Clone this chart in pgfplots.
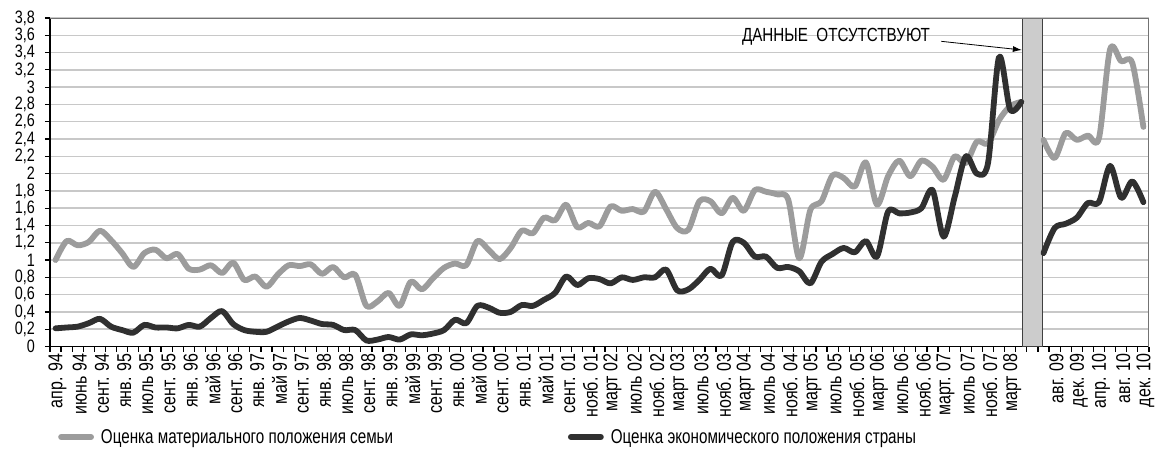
\documentclass[border=0pt]{standalone}
\usepackage{fontspec}
\setmainfont{Liberation Sans}[FakeStretch=0.85]
\newfontfamily\narrowX{Liberation Sans}[FakeStretch=0.8]
\newfontfamily\narrowL{Liberation Sans}[FakeStretch=0.76]
\usepackage{pgfplots}
\usepackage{pgfplotstable}
\pgfplotsset{compat=1.18}
\usetikzlibrary{arrows.meta}
\definecolor{lgray}{HTML}{9C9C9C}
\definecolor{dgray}{HTML}{303030}
\definecolor{gridc}{HTML}{C8C8C8}
\definecolor{barc}{HTML}{CCCCCC}

\pgfplotstableread{
k v
0 1.00
1 1.22
2 1.17
3 1.21
4 1.34
5 1.23
6 1.08
7 0.92
8 1.08
9 1.12
10 1.02
11 1.07
12 0.90
13 0.89
14 0.94
15 0.85
16 0.97
17 0.77
18 0.81
19 0.69
20 0.83
21 0.94
22 0.93
23 0.95
24 0.84
25 0.92
26 0.80
27 0.83
28 0.47
29 0.52
30 0.62
31 0.47
32 0.75
33 0.66
34 0.79
35 0.91
36 0.96
37 0.94
38 1.22
39 1.12
40 1.01
41 1.14
42 1.34
43 1.31
44 1.49
45 1.46
46 1.64
47 1.38
48 1.43
49 1.39
50 1.62
51 1.57
52 1.59
53 1.56
54 1.79
55 1.59
56 1.37
57 1.35
58 1.68
59 1.68
60 1.54
61 1.72
62 1.57
63 1.81
64 1.79
65 1.76
66 1.70
67 1.02
68 1.58
69 1.68
70 1.98
71 1.95
72 1.85
73 2.13
74 1.64
75 1.97
76 2.15
77 1.97
78 2.15
79 2.08
80 1.93
81 2.20
82 2.12
83 2.37
84 2.35
85 2.62
86 2.78
87 2.83
}\famA
\pgfplotstableread{
k v
89 2.39
90 2.18
91 2.47
92 2.39
93 2.44
94 2.41
95 3.44
96 3.30
97 3.28
98 2.54
}\famB
\pgfplotstableread{
k v
0 0.21
1 0.22
2 0.23
3 0.27
4 0.32
5 0.23
6 0.19
7 0.16
8 0.25
9 0.22
10 0.22
11 0.21
12 0.25
13 0.23
14 0.33
15 0.41
16 0.26
17 0.19
18 0.17
19 0.17
20 0.23
21 0.29
22 0.33
23 0.30
24 0.26
25 0.25
26 0.19
27 0.19
28 0.07
29 0.08
30 0.11
31 0.08
32 0.14
33 0.13
34 0.15
35 0.19
36 0.31
37 0.27
38 0.47
39 0.45
40 0.39
41 0.40
42 0.48
43 0.47
44 0.54
45 0.62
46 0.81
47 0.71
48 0.79
49 0.78
50 0.73
51 0.80
52 0.77
53 0.80
54 0.80
55 0.89
56 0.65
57 0.66
58 0.77
59 0.90
60 0.82
61 1.21
62 1.20
63 1.04
64 1.04
65 0.91
66 0.92
67 0.87
68 0.73
69 0.98
70 1.07
71 1.14
72 1.09
73 1.22
74 1.04
75 1.56
76 1.54
77 1.55
78 1.60
79 1.81
80 1.27
81 1.73
82 2.20
83 2.00
84 2.12
85 3.35
86 2.74
87 2.83
}\ecoA
\pgfplotstableread{
k v
89 1.08
90 1.37
91 1.42
92 1.49
93 1.66
94 1.67
95 2.09
96 1.72
97 1.91
98 1.67
}\ecoB

\begin{document}
\begin{tikzpicture}
\useasboundingbox (-50bp,-106.5bp) rectangle (1111bp,346.5bp);
\begin{axis}[
  scale only axis, width=1099bp, height=328.5bp,
  xmin=-0.5, xmax=98.5, ymin=0, ymax=3.8,
  axis x line*=bottom, axis y line*=left,
  axis line style={black, line width=1.8bp, -},
  tick align=outside, xtick pos=bottom, ytick pos=left,
  major tick length=5bp,
  tick style={black, line width=1.2bp},
  xtick={-0.5,0.5,...,98.5}, xticklabels={},
  extra x ticks={0,2,...,98},
  extra x tick style={major tick length=0pt, grid=none},
  extra x tick labels={апр. 94,июнь 94,сент. 94,янв. 95,июль 95,сент. 95,янв. 96,май 96,сент. 96,янв. 97,май 97,сент. 97,янв. 98,июль 98,сент. 98,янв. 99,май 99,сент. 99,янв. 00,май 00,сент. 00,янв. 01,май 01,сент. 01,нояб. 01,март 02,июль 02,нояб. 02,март 03,июль 03,нояб. 03,март 04,июль 04,нояб. 04,март 05,июль 05,нояб. 05,март 06,июль 06,нояб. 06,март. 07,июль 07,нояб. 07,март 08,{},авг. 09,дек. 09,апр. 10,авг. 10,дек. 10},
  xticklabel shift=7bp,
  xticklabel style={rotate=90, anchor=east, font=\narrowX\fontsize{20bp}{22bp}\selectfont, inner sep=0bp, yshift=-2bp},
  ytick={0,0.2,0.4,0.6,0.8,1,1.2,1.4,1.6,1.8,2,2.2,2.4,2.6,2.8,3,3.2,3.4,3.6,3.8},
  yticklabel style={font=\narrowX\fontsize{18bp}{18bp}\selectfont, xshift=-9bp, inner sep=1bp},
  /pgf/number format/.cd, use comma, fixed, precision=1, assume math mode=true,
  /pgfplots/.cd,
  ymajorgrids, grid style={draw=gridc, line width=1.5bp},
  legend columns=2,
  legend style={draw=none, fill=none, at={(0,0)}, anchor=west, xshift=8bp, yshift=-90.5bp,
    font=\narrowL\fontsize{20bp}{22bp}\selectfont, inner sep=0pt,
    /tikz/every odd column/.append style={column sep=5bp},
    /tikz/every even column/.append style={column sep=0bp}},
  legend cell align=left,
  legend image code/.code={\draw[#1, sharp plot] (0bp,0bp) -- (30bp,0bp);},
]
\addplot[ybar, bar width=20bp, fill=barc, draw=black!75, line width=1.2bp, forget plot] coordinates {(88,3.8)};
\addplot[lgray, line width=5.8bp, line cap=round, line join=round, smooth] table[x=k,y=v] {\famA};
\addlegendentry{\makebox[465bp][l]{Оценка материального положения семьи}}
\addplot[dgray, line width=5.8bp, line cap=round, line join=round, smooth] table[x=k,y=v] {\ecoA};
\addlegendentry{Оценка экономического положения страны}
\addplot[lgray, line width=5.8bp, line cap=round, line join=round, smooth, forget plot] table[x=k,y=v] {\famB};
\addplot[dgray, line width=5.8bp, line cap=round, line join=round, smooth, forget plot] table[x=k,y=v] {\ecoB};
\draw[black!55, line width=1.5bp] (rel axis cs:0,1) -- (rel axis cs:1,1) -- (rel axis cs:1,0);
\node[font=\narrowX\fontsize{19bp}{19bp}\selectfont] at (axis cs:70.3,3.58) {ДАННЫЕ\ \ ОТСУТСТВУЮТ};
\draw[-{Latex[length=9bp,width=6bp]}, line width=0.8bp] (axis cs:79.8,3.53) -- (axis cs:87.05,3.43);
\end{axis}
\end{tikzpicture}
\end{document}
